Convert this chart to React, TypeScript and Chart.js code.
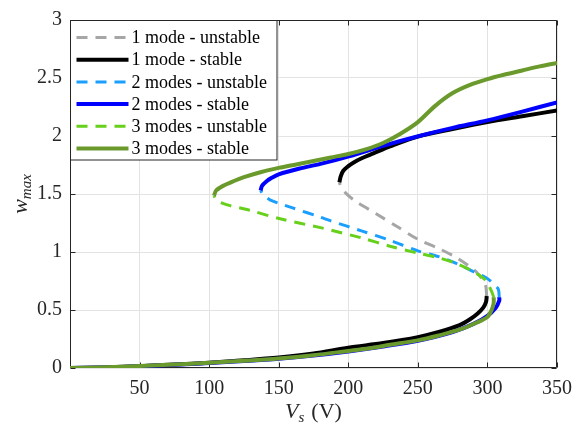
import React, { useEffect, useRef } from 'react';
import { Chart, registerables } from 'chart.js';

Chart.register(...registerables);

const FONT = "'Liberation Serif', 'Times New Roman', Times, serif";

// ---- data: [Vs (V), w_max] ----
const xTicks = [0, 50, 100, 150, 200, 250, 300, 350];
const yTicks = [0, 0.5, 1, 1.5, 2, 2.5, 3];

const seriesLabels = [
  '1 mode - unstable',
  '1 mode - stable',
  '2 modes - unstable',
  '2 modes - stable',
  '3 modes - unstable',
  '3 modes - stable',
];

const mode1Unstable: [number, number][] = [
  [299.5, 0.62], [298.5, 0.72], [294, 0.8], [290, 0.85], [278, 0.95], [265, 1.03],
  [250, 1.11], [235, 1.22], [220, 1.33], [205, 1.44], [198, 1.51], [194.5, 1.57], [193.6, 1.6],
];
const mode1StableLower: [number, number][] = [
  [0, 0], [25, 0.005], [50, 0.016], [75, 0.03], [100, 0.046], [125, 0.066], [150, 0.09],
  [175, 0.125], [200, 0.175], [225, 0.215], [250, 0.266], [265, 0.31], [280, 0.37],
  [287.5, 0.42], [293, 0.47], [297, 0.52], [299, 0.57], [299.5, 0.62],
];
const mode1StableUpper: [number, number][] = [
  [193.6, 1.6], [194.5, 1.65], [196.4, 1.7], [200, 1.74], [203.6, 1.77], [210, 1.81],
  [218, 1.85], [230, 1.91], [250, 1.995], [275, 2.06], [300, 2.12], [325, 2.17], [350, 2.22],
];

const mode2Unstable: [number, number][] = [
  [308.5, 0.61], [307.8, 0.68], [304, 0.73], [299.4, 0.776], [290, 0.83], [278, 0.9],
  [265, 0.96], [250, 1.01], [230, 1.1], [210, 1.18], [187, 1.27], [180, 1.3], [160, 1.38],
  [150, 1.42], [143.7, 1.45], [139, 1.49], [137, 1.53],
];
const mode2StableLower: [number, number][] = [
  [0, 0], [25, 0.005], [50, 0.015], [75, 0.028], [100, 0.043], [125, 0.06], [150, 0.08],
  [175, 0.108], [200, 0.143], [225, 0.185], [250, 0.235], [275, 0.31], [290, 0.38],
  [300, 0.45], [306, 0.52], [308.5, 0.58], [308.5, 0.61],
];
const mode2StableUpper: [number, number][] = [
  [137, 1.53], [138, 1.57], [141.3, 1.61], [145, 1.64], [150, 1.67], [165, 1.72],
  [180, 1.76], [200.5, 1.825], [225, 1.915], [251, 2.0], [275, 2.07], [300, 2.135],
  [325, 2.21], [350, 2.29],
];

const mode3Unstable: [number, number][] = [
  [304.5, 0.61], [303, 0.66], [298.3, 0.76], [290, 0.83], [278, 0.9], [265, 0.95],
  [250, 0.99], [230, 1.05], [210, 1.12], [187, 1.19], [180, 1.21], [151, 1.286],
  [129, 1.36], [115, 1.4], [107.8, 1.43], [104.5, 1.46], [103.5, 1.485],
];
const mode3StableLower: [number, number][] = [
  [0, 0], [25, 0.006], [50, 0.017], [75, 0.03], [100, 0.045], [125, 0.062], [150, 0.082],
  [175, 0.11], [200, 0.147], [215, 0.17], [230, 0.2], [250, 0.238], [265, 0.28],
  [280, 0.33], [292, 0.39], [300, 0.44], [303, 0.5], [304.5, 0.56], [304.5, 0.61],
];
const mode3StableUpper: [number, number][] = [
  [103.5, 1.485], [105, 1.53], [110, 1.57], [117.4, 1.61], [125, 1.645], [137.5, 1.69],
  [150, 1.725], [162.5, 1.755], [175, 1.785], [187.5, 1.815], [200, 1.845], [212.5, 1.885],
  [225, 1.94], [237.5, 2.02], [250, 2.12], [262.5, 2.26], [275, 2.37], [287.5, 2.44],
  [300, 2.49], [312.5, 2.53], [325, 2.565], [337.5, 2.6], [350, 2.63],
];

const toPts = (arr: [number, number][]) => arr.map(([x, y]) => ({ x, y }));
const joinBranches = (a: [number, number][], b: [number, number][]) =>
  toPts(a).concat([{ x: a[a.length - 1][0], y: null as any }], toPts(b));

const frameColor = '#262626';

const framePlugin = {
  id: 'frameTicks',
  beforeDatasetsDraw(chart: any) {
    const { ctx, chartArea: a } = chart;
    const xs = chart.scales.x;
    const ys = chart.scales.y;
    const L = Math.round(a.left) + 0.5;
    const R = Math.round(a.right) - 0.5;
    const T = Math.round(a.top) + 0.5;
    const B = Math.round(a.bottom) - 0.5;
    ctx.save();
    ctx.strokeStyle = frameColor;
    ctx.lineWidth = 1;
    ctx.beginPath();
    ctx.rect(L, T, R - L, B - T);
    const tl = 5;
    xTicks.forEach((v) => {
      const px = Math.round(xs.getPixelForValue(v)) + 0.5;
      ctx.moveTo(px, B);
      ctx.lineTo(px, B - tl);
      ctx.moveTo(px, T);
      ctx.lineTo(px, T + tl);
    });
    yTicks.forEach((v) => {
      const py = Math.round(ys.getPixelForValue(v)) + 0.5;
      ctx.moveTo(L, py);
      ctx.lineTo(L + tl, py);
      ctx.moveTo(R, py);
      ctx.lineTo(R - tl, py);
    });
    ctx.stroke();
    ctx.restore();
  },
};

const legendPlugin = {
  id: 'insideLegend',
  afterDatasetsDraw(chart: any) {
    const { ctx, chartArea: a } = chart;
    const x0 = Math.round(a.left) + 0.5;
    const y0 = Math.round(a.top) + 0.5;
    const w = 206.5;
    const h = 139.5;
    ctx.save();
    ctx.fillStyle = '#ffffff';
    ctx.fillRect(x0, y0, w, h);
    ctx.strokeStyle = frameColor;
    ctx.lineWidth = 1;
    ctx.strokeRect(x0, y0, w, h);
    chart.data.datasets.forEach((ds: any, i: number) => {
      const y = y0 + 17 + i * 22.2;
      ctx.beginPath();
      ctx.setLineDash(ds.borderDash || []);
      ctx.lineWidth = ds.borderWidth;
      ctx.strokeStyle = ds.borderColor;
      ctx.moveTo(x0 + 6, y);
      ctx.lineTo(x0 + 58, y);
      ctx.stroke();
      ctx.setLineDash([]);
      ctx.fillStyle = '#000000';
      ctx.font = `18px ${FONT}`;
      ctx.textBaseline = 'middle';
      ctx.textAlign = 'left';
      ctx.fillText(ds.label, x0 + 61, y + 1);
    });
    ctx.restore();
  },
};

const titlePlugin = {
  id: 'axisTitles',
  afterDraw(chart: any) {
    const { ctx, chartArea: a } = chart;
    ctx.save();
    ctx.fillStyle = '#262626';
    ctx.textBaseline = 'alphabetic';
    ctx.textAlign = 'left';
    // x title: V_s (V)
    const big = `italic 22px ${FONT}`;
    const small = `italic 15px ${FONT}`;
    const reg = `22px ${FONT}`;
    ctx.font = big;
    const wV = ctx.measureText('V').width;
    ctx.font = small;
    const wS = ctx.measureText('s').width;
    ctx.font = reg;
    const wP = ctx.measureText('(V)').width;
    const gap = 7;
    const total = wV + wS + gap + wP;
    const cx = (a.left + a.right) / 2;
    let x = cx - total / 2;
    const by = 418;
    ctx.font = big;
    ctx.fillText('V', x, by);
    x += wV;
    ctx.font = small;
    ctx.fillText('s', x, by + 4);
    x += wS + gap;
    ctx.font = reg;
    ctx.fillText('(V)', x, by);

    // y title: w_max
    ctx.translate(27, (a.top + a.bottom) / 2);
    ctx.rotate(-Math.PI / 2);
    ctx.font = big;
    const ww = ctx.measureText('w').width;
    ctx.font = small;
    const wm = ctx.measureText('max').width;
    let yx = -(ww + wm) / 2;
    ctx.font = big;
    ctx.fillText('w', yx, 0);
    yx += ww;
    ctx.font = small;
    ctx.fillText('max', yx, 4);
    ctx.restore();
  },
};

export default function App() {
  const ref = useRef<HTMLCanvasElement | null>(null);

  useEffect(() => {
    document.body.style.margin = '0';
    const canvas = ref.current;
    if (!canvas) return;

    const mk = (label: string, data: any[], color: string, width: number, dash: number[], order: number) => ({
      label,
      data,
      borderColor: color,
      backgroundColor: color,
      borderWidth: width,
      borderDash: dash,
      showLine: true,
      pointRadius: 0,
      pointHoverRadius: 0,
      tension: 0.3,
      fill: false,
      order,
    });

    const dash = [11, 8];
    const chart = new Chart(canvas, {
      type: 'scatter',
      data: {
        datasets: [
          mk(seriesLabels[0], toPts(mode1Unstable), '#a6a6a6', 3, dash, 5),
          mk(seriesLabels[1], joinBranches(mode1StableLower, mode1StableUpper), '#000000', 4, [], 4),
          mk(seriesLabels[2], toPts(mode2Unstable), '#1a9fff', 3, dash, 3),
          mk(seriesLabels[3], joinBranches(mode2StableLower, mode2StableUpper), '#0000ff', 4, [], 2),
          mk(seriesLabels[4], toPts(mode3Unstable), '#66d01a', 3, dash, 1),
          mk(seriesLabels[5], joinBranches(mode3StableLower, mode3StableUpper), '#6b9a2c', 4, [], 0),
        ] as any,
      },
      options: {
        animation: false,
        responsive: false,
        events: [],
        layout: { padding: { top: 15, right: 26, left: 0, bottom: 0 } },
        plugins: {
          legend: { display: false },
          tooltip: { enabled: false },
          title: { display: false },
        },
        scales: {
          x: {
            type: 'linear',
            min: 0,
            max: 350,
            afterBuildTicks: (s: any) => {
              s.ticks = xTicks.map((v) => ({ value: v }));
            },
            afterFit: (s: any) => {
              s.height = 62;
            },
            ticks: {
              callback: (v: any) => (v === 0 ? '' : String(v)),
              font: { family: FONT, size: 20 },
              color: '#262626',
              padding: 9,
              maxRotation: 0,
              autoSkip: false,
            },
            grid: { color: '#e3e3e3', lineWidth: 1, drawTicks: false },
            border: { display: false },
          },
          y: {
            type: 'linear',
            min: 0,
            max: 3,
            afterBuildTicks: (s: any) => {
              s.ticks = yTicks.map((v) => ({ value: v }));
            },
            afterFit: (s: any) => {
              s.width = 70;
            },
            ticks: {
              callback: (v: any) => String(v),
              font: { family: FONT, size: 20 },
              color: '#262626',
              padding: 8,
              autoSkip: false,
            },
            grid: { color: '#e3e3e3', lineWidth: 1, drawTicks: false },
            border: { display: false },
          },
        },
      } as any,
      plugins: [framePlugin, legendPlugin, titlePlugin],
    });

    return () => chart.destroy();
  }, []);

  return (
    <div style={{ width: 583, height: 430 }}>
      <canvas ref={ref} width={583} height={430} style={{ display: 'block', width: 583, height: 430 }} />
    </div>
  );
}
